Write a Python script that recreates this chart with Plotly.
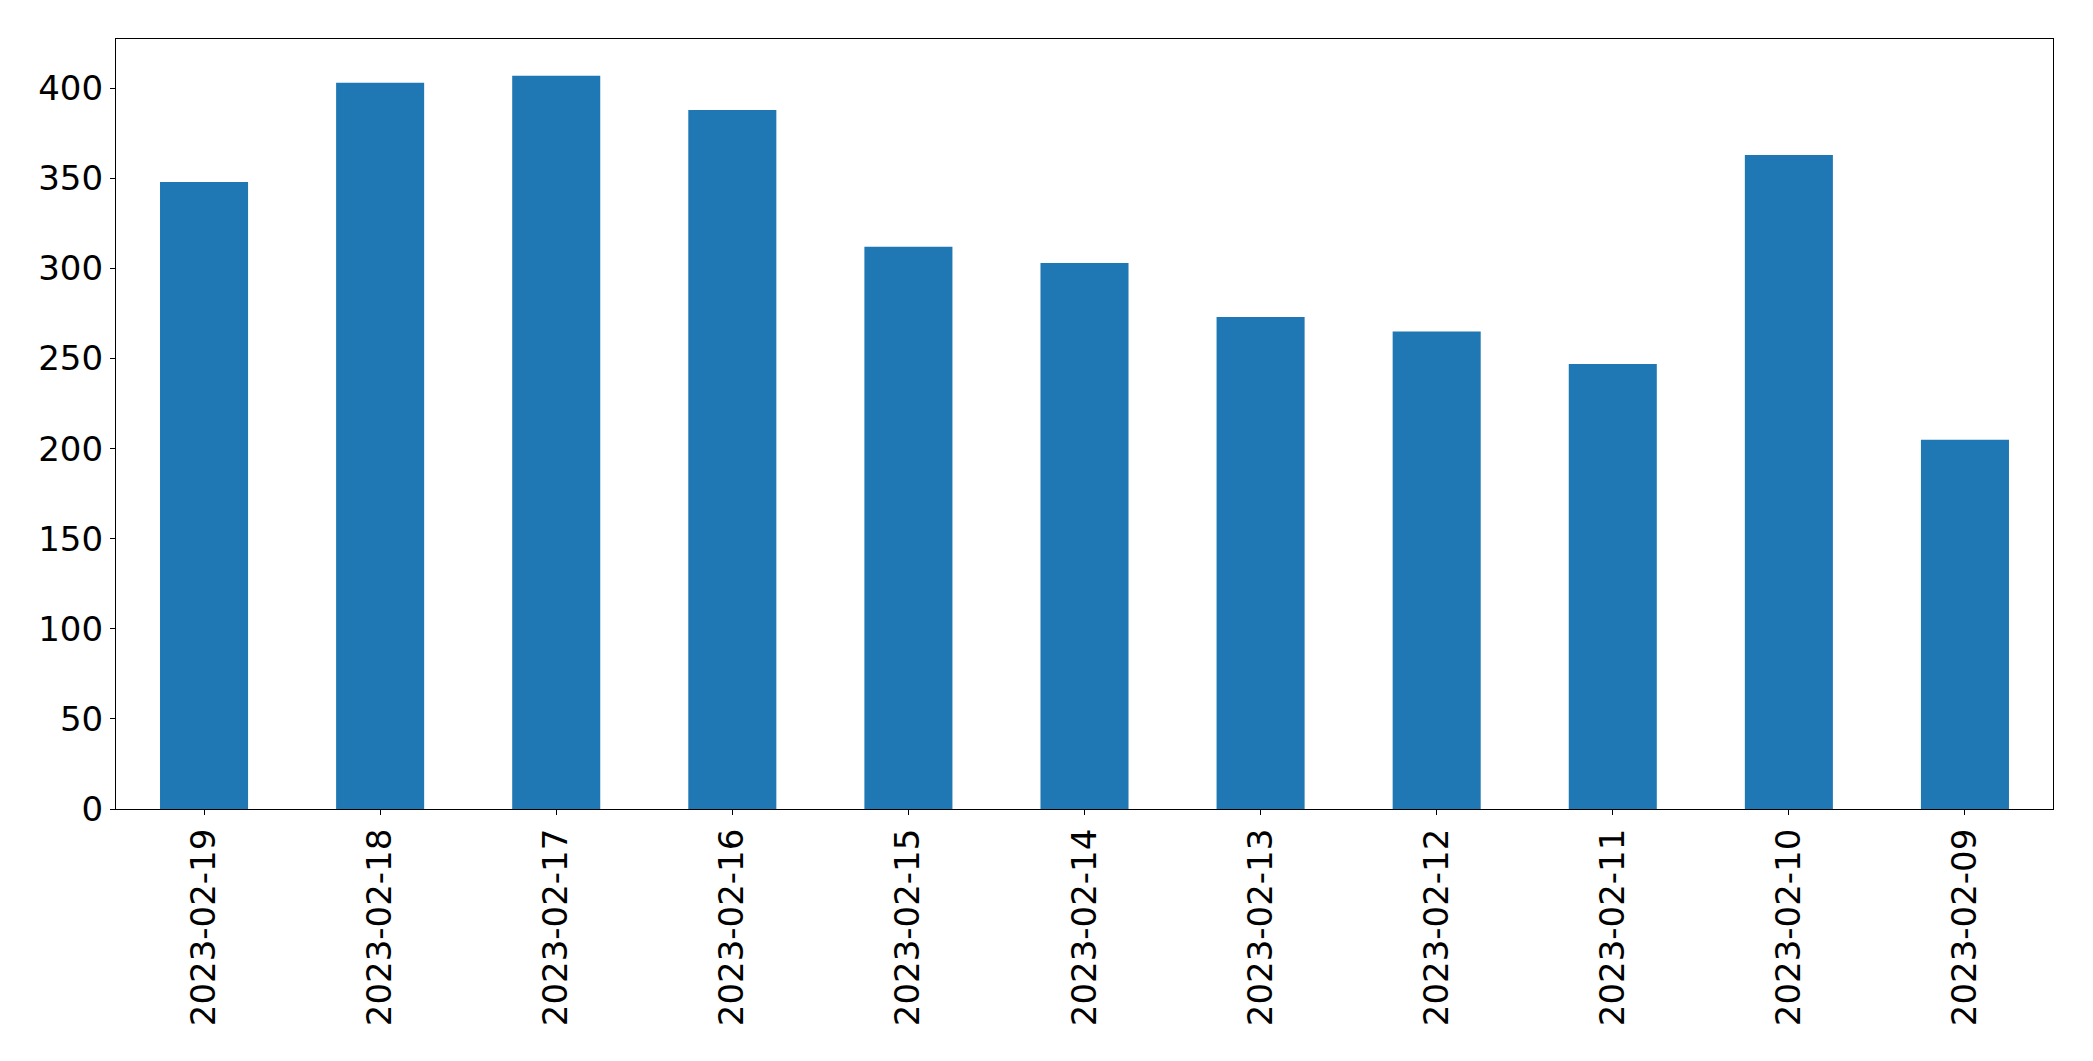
import plotly.graph_objects as go

dates = ["2023-02-19", "2023-02-18", "2023-02-17", "2023-02-16", "2023-02-15",
         "2023-02-14", "2023-02-13", "2023-02-12", "2023-02-11", "2023-02-10",
         "2023-02-09"]
counts = [348, 403, 407, 388, 312, 303, 273, 265, 247, 363, 205]
y_ticks = [0, 50, 100, 150, 200, 250, 300, 350, 400]

fig = go.Figure(go.Bar(x=dates, y=counts, width=0.5, marker=dict(color="#1f77b4", line=dict(width=0))))

fig.update_layout(
    width=2093, height=1061,
    margin=dict(l=108, r=48, t=31, b=260),
    paper_bgcolor="white", plot_bgcolor="white",
    font=dict(family="DejaVu Sans", size=34, color="black"),
    showlegend=False,
)
fig.update_xaxes(
    type="category", range=[-0.5, len(dates) - 0.5],
    tickangle=-90, showline=True, linecolor="black", linewidth=1.1, mirror=True,
    ticks="outside", ticklen=5, tickwidth=1.1, tickcolor="black",
    showgrid=False, zeroline=False,
)
fig.update_yaxes(
    range=[0, max(counts) * 1.05], tickvals=y_ticks,
    showline=True, linecolor="black", linewidth=1.1, mirror=True,
    ticks="outside", ticklen=5, tickwidth=1.1, tickcolor="black",
    showgrid=False, zeroline=False,
)
fig.write_html("out.html")
